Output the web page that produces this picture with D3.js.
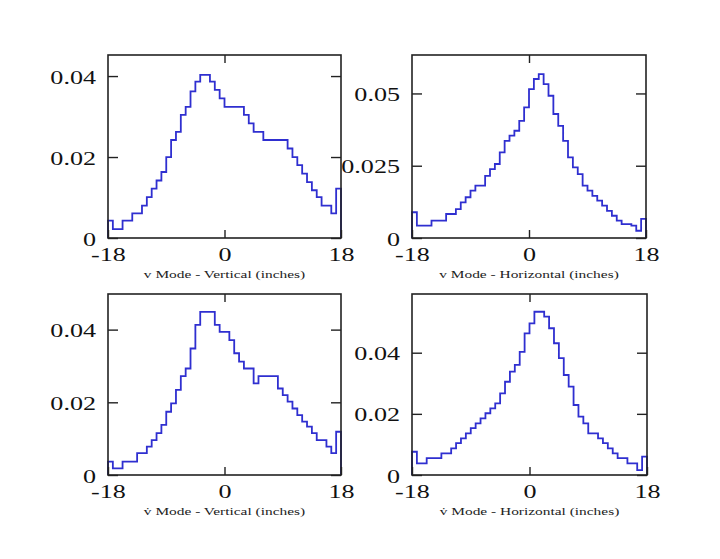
<!DOCTYPE html>
<html>
<head>
<meta charset="utf-8">
<script src="https://cdn.jsdelivr.net/npm/d3@7"></script>
<style>
  body { margin: 0; background: #fff; }
  svg { display: block; }
</style>
</head>
<body>
<div id="chart"></div>
<script>
// histogram bins: 48 bins of 0.75 inch from -18 to 18
var binLo = -18;
var binWidth = 0.75;

var vertV = [0.0043, 0.0022, 0.0022, 0.0043, 0.0043, 0.0061, 0.0061, 0.0080, 0.0101, 0.0122, 0.0142, 0.0163,
  0.0200, 0.0242, 0.0262, 0.0304, 0.0324, 0.0362, 0.0386, 0.0403, 0.0403, 0.0386, 0.0366, 0.0345,
  0.0324, 0.0324, 0.0324, 0.0324, 0.0304, 0.0283, 0.0262, 0.0262, 0.0242, 0.0242, 0.0242, 0.0242,
  0.0242, 0.0221, 0.0200, 0.0180, 0.0159, 0.0138, 0.0118, 0.0101, 0.0080, 0.0080, 0.0061, 0.0122];

var horizV = [0.0089, 0.0043, 0.0043, 0.0043, 0.0060, 0.0060, 0.0060, 0.0083, 0.0083, 0.0100, 0.0123, 0.0141,
  0.0164, 0.0181, 0.0181, 0.0215, 0.0238, 0.0256, 0.0296, 0.0336, 0.0354, 0.0371, 0.0405, 0.0452,
  0.0515, 0.0550, 0.0567, 0.0532, 0.0492, 0.0429, 0.0388, 0.0336, 0.0279, 0.0244, 0.0221, 0.0181,
  0.0164, 0.0146, 0.0129, 0.0112, 0.0094, 0.0077, 0.0060, 0.0048, 0.0048, 0.0043, 0.0025, 0.0066];

var vertVdot = [0.0037, 0.0018, 0.0018, 0.0037, 0.0037, 0.0037, 0.0060, 0.0060, 0.0078, 0.0096, 0.0115, 0.0138,
  0.0174, 0.0197, 0.0234, 0.0272, 0.0293, 0.0348, 0.0413, 0.0449, 0.0449, 0.0449, 0.0413, 0.0394,
  0.0394, 0.0371, 0.0335, 0.0312, 0.0293, 0.0293, 0.0252, 0.0272, 0.0272, 0.0272, 0.0272, 0.0238,
  0.0220, 0.0202, 0.0183, 0.0165, 0.0147, 0.0133, 0.0115, 0.0096, 0.0096, 0.0078, 0.0060, 0.0119];

var horizVdot = [0.0076, 0.0038, 0.0038, 0.0055, 0.0055, 0.0055, 0.0071, 0.0071, 0.0087, 0.0104, 0.0120, 0.0136,
  0.0153, 0.0169, 0.0185, 0.0202, 0.0218, 0.0234, 0.0267, 0.0305, 0.0338, 0.0360, 0.0403, 0.0463,
  0.0496, 0.0534, 0.0534, 0.0518, 0.0480, 0.0431, 0.0382, 0.0327, 0.0289, 0.0229, 0.0191, 0.0169,
  0.0136, 0.0136, 0.0120, 0.0104, 0.0087, 0.0071, 0.0055, 0.0055, 0.0038, 0.0038, 0.0016, 0.0060];

var xTicks = [-18, 0, 18];
var yTicksA = [0, 0.02, 0.04];
var yTicksB = [0, 0.025, 0.05];
var titles = ["v Mode - Vertical (inches)", "v Mode - Horizontal (inches)",
  "v\u0307 Mode - Vertical (inches)", "v\u0307 Mode - Horizontal (inches)"];

var panels = [
  { values: vertV, title: titles[0], yMax: 0.0452, yTicks: yTicksA, left: 108, top: 55, w: 233, h: 183 },
  { values: horizV, title: titles[1], yMax: 0.0633, yTicks: yTicksB, left: 412, top: 55, w: 234, h: 183 },
  { values: vertVdot, title: titles[2], yMax: 0.0498, yTicks: yTicksA, left: 108, top: 294, w: 233, h: 181 },
  { values: horizVdot, title: titles[3], yMax: 0.0592, yTicks: yTicksA, left: 412, top: 294, w: 235, h: 181 }
];

var svgWidth = 720;
var svgHeight = 559;
var font = "'Liberation Serif', 'Times New Roman', serif";
var stretch = 1.45;

var svg = d3.select("#chart")
  .append("svg")
  .attr("width", svgWidth)
  .attr("height", svgHeight);

panels.forEach(function(p) {
  var g = svg.append("g").attr("transform", `translate(${p.left}, ${p.top})`);

  var x = d3.scaleLinear().domain([-18, 18]).range([0, p.w]);
  var y = d3.scaleLinear().domain([0, p.yMax]).range([p.h, 0]);

  // step outline of the histogram
  var pts = [[binLo, 0]];
  p.values.forEach(function(v, i) { pts.push([binLo + i * binWidth, v]); });
  pts.push([binLo + p.values.length * binWidth, p.values[p.values.length - 1]]);
  pts.push([binLo + p.values.length * binWidth, 0]);

  var line = d3.line()
    .x(d => x(d[0]))
    .y(d => y(d[1]))
    .curve(d3.curveStepAfter);

  g.append("path")
    .datum(pts)
    .attr("d", line)
    .attr("fill", "none")
    .attr("stroke", "#2f2fd0")
    .attr("stroke-width", 1.8);

  var fmt = d => d === 0 ? "0" : String(d);

  // axes, ticks pointing inward
  var leftAxis = g.append("g")
    .call(d3.axisLeft(y).tickValues(p.yTicks).tickSize(-10).tickFormat(fmt));
  var rightAxis = g.append("g")
    .attr("transform", `translate(${p.w}, 0)`)
    .call(d3.axisRight(y).tickValues(p.yTicks).tickSize(-10).tickFormat(""));
  var bottomAxis = g.append("g")
    .attr("transform", `translate(0, ${p.h})`)
    .call(d3.axisBottom(x).tickValues(xTicks).tickSize(-8).tickFormat(fmt));
  var topAxis = g.append("g")
    .call(d3.axisTop(x).tickValues([0]).tickSize(-8).tickFormat(""));

  [leftAxis, rightAxis, bottomAxis, topAxis].forEach(function(a) {
    a.select(".domain").remove();
    a.selectAll("line").attr("stroke", "#222").attr("stroke-width", 1.4);
  });

  leftAxis.selectAll("text")
    .attr("x", null).attr("dy", null)
    .attr("fill", "#111")
    .style("font-family", font)
    .style("font-size", "18px")
    .attr("text-anchor", "end")
    .attr("transform", `translate(-12, 7) scale(${stretch}, 1)`);

  bottomAxis.selectAll("text")
    .attr("y", null).attr("dy", null)
    .attr("fill", "#111")
    .style("font-family", font)
    .style("font-size", "18px")
    .attr("text-anchor", "middle")
    .attr("transform", `translate(0, 23) scale(${stretch}, 1)`);

  // frame
  g.append("rect")
    .attr("width", p.w)
    .attr("height", p.h)
    .attr("fill", "none")
    .attr("stroke", "#222")
    .attr("stroke-width", 1.6);

  g.append("text")
    .attr("transform", `translate(${p.w / 2}, ${p.h + 40}) scale(1.4, 1)`)
    .attr("text-anchor", "middle")
    .attr("fill", "#222")
    .style("font-family", font)
    .style("font-size", "11px")
    .text(p.title);
});
</script>
</body>
</html>
